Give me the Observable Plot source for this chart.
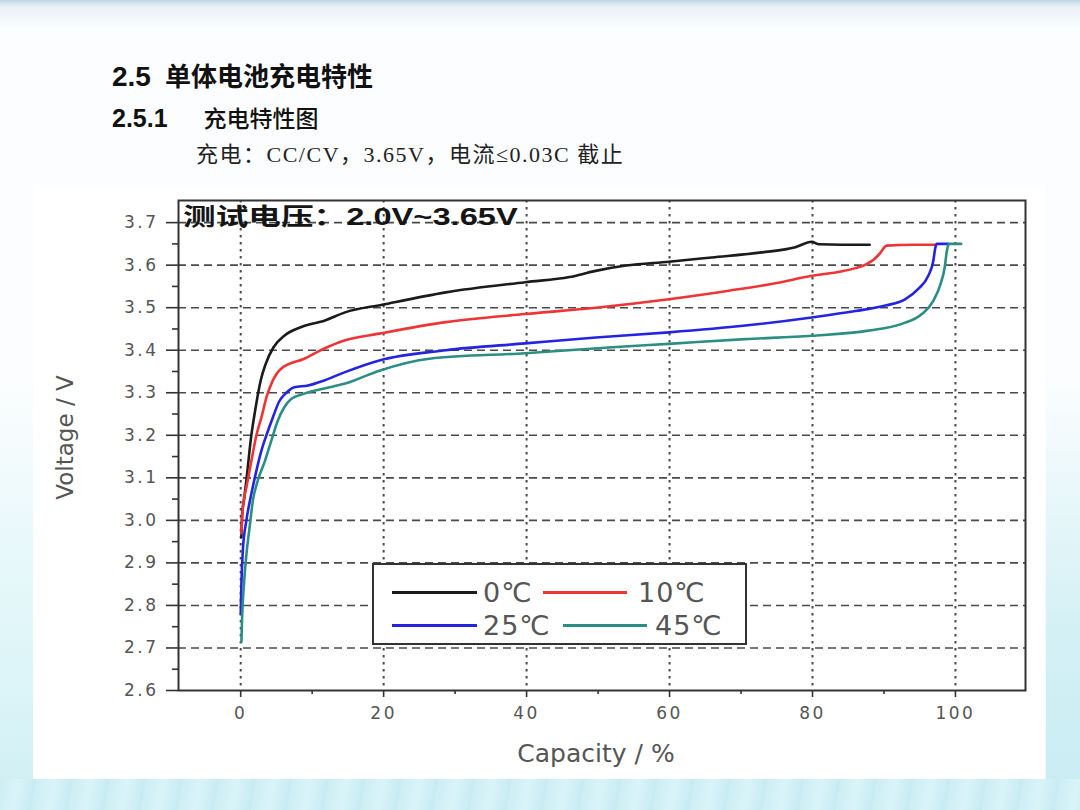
<!DOCTYPE html>
<html>
<head>
<meta charset="utf-8">
<script src="https://cdn.jsdelivr.net/npm/d3@7"></script>
<script src="https://cdn.jsdelivr.net/npm/@observablehq/plot@0.6"></script>
<style>
  html, body { margin: 0; padding: 0; }
  body {
    width: 1080px; height: 810px; overflow: hidden; position: relative;
    background: linear-gradient(to bottom, #c3d7e4 0px, #e9f2f7 7px, #fbfdfe 28px, #fbfdfe 55%, #eef9fb 100%);
    font-family: "Liberation Sans", "Noto Sans CJK SC", sans-serif;
  }
  .abs { position: absolute; white-space: nowrap; }
  #t1 { left: 112px; top: 61px; font-size: 28px; line-height: 28px; color: #111; }
  #t1 .num { font-weight: 700; }
  #t1 .cjk { font-family: "Noto Sans CJK SC", sans-serif; font-weight: 700; font-size: 26px; margin-left: 14px; }
  #t2 { left: 112px; top: 105px; font-size: 25px; line-height: 25px; color: #111; }
  #t2 .num { font-weight: 700; }
  #t2 .cjk { font-family: "Noto Sans CJK SC", sans-serif; font-weight: 500; font-size: 23px; margin-left: 36px; }
  #t3 { left: 196px; top: 144px; font-size: 22px; line-height: 22px; color: #222; letter-spacing: 1.5px;
        font-family: "Liberation Serif", "Noto Sans CJK SC", serif; }
  #bottomband { left: 0; top: 779px; width: 1080px; height: 31px;
        background: repeating-linear-gradient(100deg, #cdeef4 0px, #d9f4f8 18px, #c6ebf2 36px); }
  #rightband { left: 1046px; top: 380px; width: 34px; height: 430px;
        background: linear-gradient(to bottom, rgba(205,238,244,0) 0%, #d3f0f5 60%, #c8ecf2 100%); }
  #leftband { left: 0; top: 380px; width: 33px; height: 430px;
        background: linear-gradient(to bottom, rgba(215,243,247,0) 0%, #dcf5f8 70%, #cfeef3 100%); }
  #panel { left: 33px; top: 185px; width: 1012px; height: 594px; background: #fff; }
  #annot { left: 183px; top: 205px; font-size: 24px; line-height: 24px; font-weight: 700; color: #151515;
        font-family: "Liberation Sans", "Noto Sans CJK SC", sans-serif;
        transform: scaleX(1.36); transform-origin: left center; }
  #legend { left: 372px; top: 563px; width: 375px; height: 82px; box-sizing: border-box;
        border: 2px solid #333; background: #fff; }
  #legend .ln { position: absolute; height: 3px; }
  #legend .lb { position: absolute; font-family: "DejaVu Sans", sans-serif; font-size: 27px; line-height: 27px; color: #555; letter-spacing: 1px; }
  #panel svg g[aria-label="x-axis tick label"] text,
  #panel svg g[aria-label="y-axis tick label"] text { letter-spacing: 2.5px; }
  #panel svg g[aria-label="xtitle"] text { letter-spacing: 2px; }
</style>
</head>
<body>
<div id="leftband" class="abs"></div>
<div id="rightband" class="abs"></div>
<div id="bottomband" class="abs"></div>
<div id="t1" class="abs"><span class="num">2.5</span><span class="cjk">单体电池充电特性</span></div>
<div id="t2" class="abs"><span class="num">2.5.1</span><span class="cjk">充电特性图</span></div>
<div id="t3" class="abs">充电：CC/CV，3.65V，电流≤0.03C 截止</div>
<div id="panel" class="abs"></div>
<div id="annot" class="abs">测试电压：2.0V~3.65V</div>
<div id="legend" class="abs"></div>
<script>
// ---- Data ----
const seriesNames = ["0℃", "10℃", "25℃", "45℃"];
const seriesColors = ["#1b1b1b", "#ee3434", "#2424e0", "#2a8e84"];

// 0 °C
const cap0  = [0.1, 0.2, 0.45, 0.9, 1.4, 2.1, 2.8, 3.5, 4.6, 6.1, 8.4, 11.8, 14.6, 19.8, 28.7, 39.8, 46, 49.5, 53.9, 59.9, 65.9, 72.9, 77.6, 79.9, 80.9, 84, 88];
const volt0 = [2.96, 3.015, 3.046, 3.11, 3.188, 3.266, 3.329, 3.368, 3.407, 3.434, 3.454, 3.47, 3.489, 3.507, 3.536, 3.56, 3.572, 3.586, 3.599, 3.608, 3.618, 3.63, 3.642, 3.655, 3.649, 3.648, 3.648];

// 10 °C
const cap10  = [0.1, 0.3, 0.8, 1.5, 2.2, 2.9, 3.6, 4.5, 5.7, 8.9, 11.7, 14.5, 19.4, 28.7, 39.8, 49.7, 59.9, 68.3, 75, 79.9, 84, 86, 87.5, 88.5, 89.3, 90.4, 94, 97.2];
const volt10 = [2.97, 3.03, 3.078, 3.14, 3.20, 3.242, 3.289, 3.329, 3.357, 3.38, 3.404, 3.423, 3.439, 3.466, 3.485, 3.50, 3.52, 3.54, 3.558, 3.575, 3.585, 3.593, 3.602, 3.612, 3.625, 3.646, 3.648, 3.648];

// 25 °C
const cap25  = [0, 0.1, 0.3, 0.8, 1.5, 2.2, 2.9, 3.6, 4.5, 5.4, 6.4, 7.5, 9.4, 11.7, 14.5, 19.4, 28.7, 39.8, 49.7, 59.9, 70.6, 79.9, 86, 90.2, 93, 94.8, 96.2, 96.9, 97.2, 97.4, 99];
const volt25 = [2.78, 2.851, 2.929, 3.0, 3.063, 3.117, 3.164, 3.20, 3.242, 3.28, 3.30, 3.313, 3.317, 3.329, 3.348, 3.376, 3.40, 3.416, 3.43, 3.442, 3.458, 3.477, 3.492, 3.505, 3.52, 3.544, 3.575, 3.61, 3.642, 3.65, 3.65];

// 45 °C
const cap45  = [0.1, 0.2, 0.46, 0.8, 1.25, 1.7, 2.4, 3.4, 4.3, 5.2, 6.1, 7.1, 8.9, 11.7, 14.5, 19.4, 26.4, 39.8, 52, 59.9, 70.6, 79.9, 87.8, 92.5, 95.3, 96.9, 97.9, 98.5, 98.8, 99.1, 100.8];
const volt45 = [2.714, 2.772, 2.85, 2.92, 2.984, 3.046, 3.094, 3.14, 3.188, 3.235, 3.266, 3.286, 3.298, 3.31, 3.321, 3.352, 3.38, 3.393, 3.407, 3.415, 3.426, 3.434, 3.446, 3.462, 3.485, 3.516, 3.555, 3.595, 3.634, 3.65, 3.65];

// Axis ticks
const xTicks = [0, 20, 40, 60, 80, 100];
const xMinorTicks = [10, 30, 50, 70, 90];
const yTicks = [2.6, 2.7, 2.8, 2.9, 3.0, 3.1, 3.2, 3.3, 3.4, 3.5, 3.6, 3.7];
const yGridTicks = [2.7, 2.8, 2.9, 3.0, 3.1, 3.2, 3.3, 3.4, 3.5, 3.6, 3.7];
const yMinorTicks = [2.65, 2.75, 2.85, 2.95, 3.05, 3.15, 3.25, 3.35, 3.45, 3.55, 3.65];

const xTitle = "Capacity / %";
const yTitle = "Voltage / V";

// ---- Build table ----
const caps = [cap0, cap10, cap25, cap45];
const volts = [volt0, volt10, volt25, volt45];
const rows = seriesNames.flatMap((name, k) =>
  caps[k].map((c, i) => ({series: name, cap: c, volt: volts[k][i]})));

const chart = Plot.plot({
  width: 1012,
  height: 594,
  marginLeft: 145,
  marginTop: 15,
  marginRight: 20,
  marginBottom: 89,
  style: {background: "#fff", fontFamily: "DejaVu Sans, sans-serif", overflow: "visible"},
  x: {domain: [-8.7, 109.8], label: null},
  y: {domain: [2.6, 3.752], label: null},
  color: {domain: seriesNames, range: seriesColors},
  marks: [
    Plot.gridY(yGridTicks, {stroke: "#4a4a4a", strokeOpacity: 1, strokeWidth: 1.6, strokeDasharray: "8,5"}),
    Plot.gridX(xTicks, {stroke: "#4a4a4a", strokeOpacity: 1, strokeWidth: 2, strokeDasharray: "2.5,4.5"}),
    Plot.line(rows, {x: "cap", y: "volt", z: "series", stroke: "series", strokeWidth: 2.6, curve: "monotone-x"}),
    Plot.frame({stroke: "#333", strokeWidth: 2}),
    Plot.axisX(xTicks, {tickSize: 7, tickPadding: 9, stroke: "#333", strokeWidth: 1.6, fill: "#555", fontSize: 17, label: null}),
    Plot.axisX(xMinorTicks, {tickSize: 4, stroke: "#333", strokeWidth: 1.6, tickFormat: () => "", label: null}),
    Plot.axisY(yTicks, {tickSize: 12, tickPadding: 8, stroke: "#333", strokeWidth: 1.6, fill: "#555", fontSize: 17, tickFormat: d3.format(".1f"), label: null}),
    Plot.axisY(yMinorTicks, {tickSize: 6, stroke: "#333", strokeWidth: 1.6, tickFormat: () => "", label: null}),
    Plot.text([xTitle], {text: d => d, frameAnchor: "bottom", textAnchor: "middle", lineAnchor: "middle", dy: 63, dx: -6, fontSize: 25, fill: "#555", ariaLabel: "xtitle"}),
    Plot.text([yTitle], {text: d => d, frameAnchor: "left", textAnchor: "middle", lineAnchor: "middle", rotate: -90, dx: -113, dy: -8, fontSize: 23, fill: "#555", ariaLabel: "ytitle"})
  ]
});
document.getElementById("panel").appendChild(chart);

// ---- Legend (HTML) ----
const legend = document.getElementById("legend");
const legendLayout = [
  {line: [18, 85], label: 109, row: 27},
  {line: [169, 84], label: 264, row: 27},
  {line: [18, 85], label: 109, row: 60},
  {line: [189, 84], label: 281, row: 60}
];
seriesNames.forEach((name, k) => {
  const L = legendLayout[k];
  const ln = document.createElement("div");
  ln.className = "ln";
  ln.style.left = L.line[0] + "px";
  ln.style.width = L.line[1] + "px";
  ln.style.top = (L.row - 1.5) + "px";
  ln.style.background = seriesColors[k];
  legend.appendChild(ln);
  const lb = document.createElement("div");
  lb.className = "lb";
  lb.style.left = L.label + "px";
  lb.style.top = (L.row - 13.5) + "px";
  lb.textContent = name;
  legend.appendChild(lb);
});
</script>
</body>
</html>
